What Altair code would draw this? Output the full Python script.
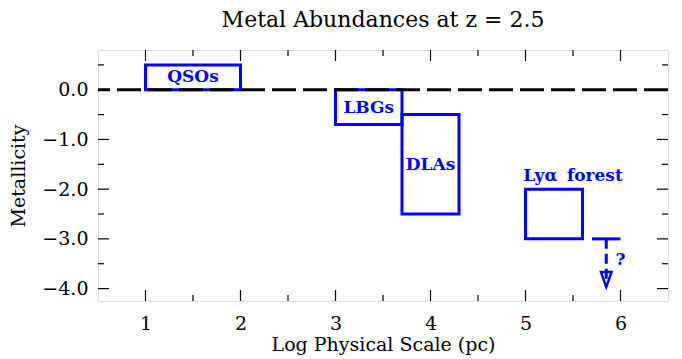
import altair as alt
import pandas as pd

# ---- data ----
BOX_LABELS = ["QSOs", "LBGs", "DLAs", "Ly\u03b1\u2009 forest"]
BOX_X1 = [1.0, 3.0, 3.7, 5.0]
BOX_X2 = [2.0, 3.7, 4.3, 5.6]
BOX_Y1 = [0.0, 0.0, -0.5, -2.0]
BOX_Y2 = [0.5, -0.7, -2.5, -3.0]

LABEL_X = [1.5, 3.35, 4.0, 5.5]
LABEL_Y = [0.26, -0.36, -1.51, -1.73]

LIMIT_X1 = [5.7]
LIMIT_X2 = [6.0]
LIMIT_Y = [-3.0]
ARROW_X = [5.85]
ARROW_Y1 = [-3.0]
ARROW_Y2 = [-3.97]
Q_LABEL = ["?"]
Q_X = [6.0]
Q_Y = [-3.42]

ZERO = [0.0]

X_MAJOR = [1, 2, 3, 4, 5, 6]
X_MINOR = [1.5, 2.5, 3.5, 4.5, 5.5]
Y_MAJOR = [-4, -3, -2, -1, 0]
Y_MINOR = [-3.5, -2.5, -1.5, -0.5, 0.5]

W, H = 570, 251
BLUE = "#0000ff"
FONT = "DejaVu Serif"

xs = alt.Scale(domain=[0.5, 6.5], nice=False, zero=False)
ys = alt.Scale(domain=[-4.25, 0.8], nice=False, zero=False)

X_AXIS = alt.Axis(values=X_MAJOR, format="d", ticks=False, domain=False, grid=False,
                  labelFont=FONT, labelFontSize=19, labelPadding=13, labelColor="black",
                  title="Log Physical Scale (pc)", titleFont=FONT, titleFontSize=19,
                  titleFontWeight="normal", titleColor="black", titleX=W / 2, titleY=49,
                  titleBaseline="alphabetic")
Y_AXIS = alt.Axis(values=Y_MAJOR, format=".1f", ticks=False, domain=False, grid=False,
                  labelFont=FONT, labelFontSize=19, labelPadding=10, labelColor="black",
                  title="Metallicity", titleFont=FONT, titleFontSize=19,
                  titleFontWeight="normal", titleColor="black", titleX=-80, titleY=H / 2,
                  titleAngle=-90, titleBaseline="middle", titleAlign="center")


def X(field):
    return alt.X(field, type="quantitative", scale=xs, axis=X_AXIS)


def Y(field):
    return alt.Y(field, type="quantitative", scale=ys, axis=Y_AXIS)


boxes = pd.DataFrame({"label": BOX_LABELS, "x1": BOX_X1, "x2": BOX_X2, "y1": BOX_Y1, "y2": BOX_Y2})
labels = pd.DataFrame({"label": BOX_LABELS, "x": LABEL_X, "y": LABEL_Y})

rects = alt.Chart(boxes).mark_rect(fillOpacity=0, stroke=BLUE, strokeWidth=3).encode(
    x=X("x1"), x2="x2", y=Y("y1"), y2="y2")

texts = alt.Chart(labels).mark_text(font=FONT, fontSize=17, fontWeight="bold", color=BLUE,
                                    baseline="middle", align="center").encode(
    x=X("x"), y=Y("y"), text="label:N")

zero = alt.Chart(pd.DataFrame({"y": ZERO})).mark_rule(color="black", strokeWidth=3,
                                                      strokeDash=[24, 7]).encode(y=Y("y"))

limit = alt.Chart(pd.DataFrame({"x1": LIMIT_X1, "x2": LIMIT_X2, "y": LIMIT_Y})).mark_rule(
    color=BLUE, strokeWidth=3).encode(x=X("x1"), x2="x2", y=Y("y"))

arrow_line = alt.Chart(pd.DataFrame({"x": ARROW_X, "y1": ARROW_Y1, "y2": ARROW_Y2})).mark_rule(
    color=BLUE, strokeWidth=3, strokeDash=[10, 5]).encode(x=X("x"), y=Y("y1"), y2="y2")

arrow_head = alt.Chart(pd.DataFrame({"x": ARROW_X, "y": ARROW_Y2})).mark_point(
    shape="M-0.35,-1L0,0L0.35,-1Z", size=900, filled=False, stroke=BLUE, strokeWidth=2.5,
    opacity=1).encode(x=X("x"), y=Y("y"))

qmark = alt.Chart(pd.DataFrame({"t": Q_LABEL, "x": Q_X, "y": Q_Y})).mark_text(
    font=FONT, fontSize=17, fontWeight="bold", color=BLUE, baseline="middle", align="center"
).encode(x=X("x"), y=Y("y"), text="t:N")


def xticks(vals, length, top):
    df = pd.DataFrame({"v": vals})
    if top:
        yv, y2v = 0, length
    else:
        yv, y2v = H, H - length
    return alt.Chart(df).mark_rule(color="black", strokeWidth=1.2).encode(
        x=X("v"), y=alt.value(yv), y2=alt.value(y2v))


def yticks(vals, length, right):
    df = pd.DataFrame({"v": vals})
    if right:
        xv, x2v = W, W - length
    else:
        xv, x2v = 0, length
    return alt.Chart(df).mark_rule(color="black", strokeWidth=1.2).encode(
        y=Y("v"), x=alt.value(xv), x2=alt.value(x2v))


ticks = [
    xticks(X_MAJOR, 11, False), xticks(X_MINOR, 6, False),
    xticks(X_MAJOR, 11, True), xticks(X_MINOR, 6, True),
    yticks(Y_MAJOR, 11, False), yticks(Y_MINOR, 6, False),
    yticks(Y_MAJOR, 11, True), yticks(Y_MINOR, 6, True),
]

chart = alt.layer(rects, zero, texts, limit, arrow_line, arrow_head, qmark, *ticks).properties(
    width=W, height=H,
    autosize=alt.AutoSizeParams(type="none"),
    padding={"left": 90, "top": 42, "right": 6, "bottom": 58},
    title=alt.TitleParams("Metal Abundances at z = 2.5", font=FONT, fontSize=22,
                          fontWeight="normal", color="black", anchor="middle", offset=17),
).configure_view(stroke="black", strokeWidth=1.5).configure(background="white")

chart.save("out.html", embed_options={"renderer": "svg", "actions": False})
